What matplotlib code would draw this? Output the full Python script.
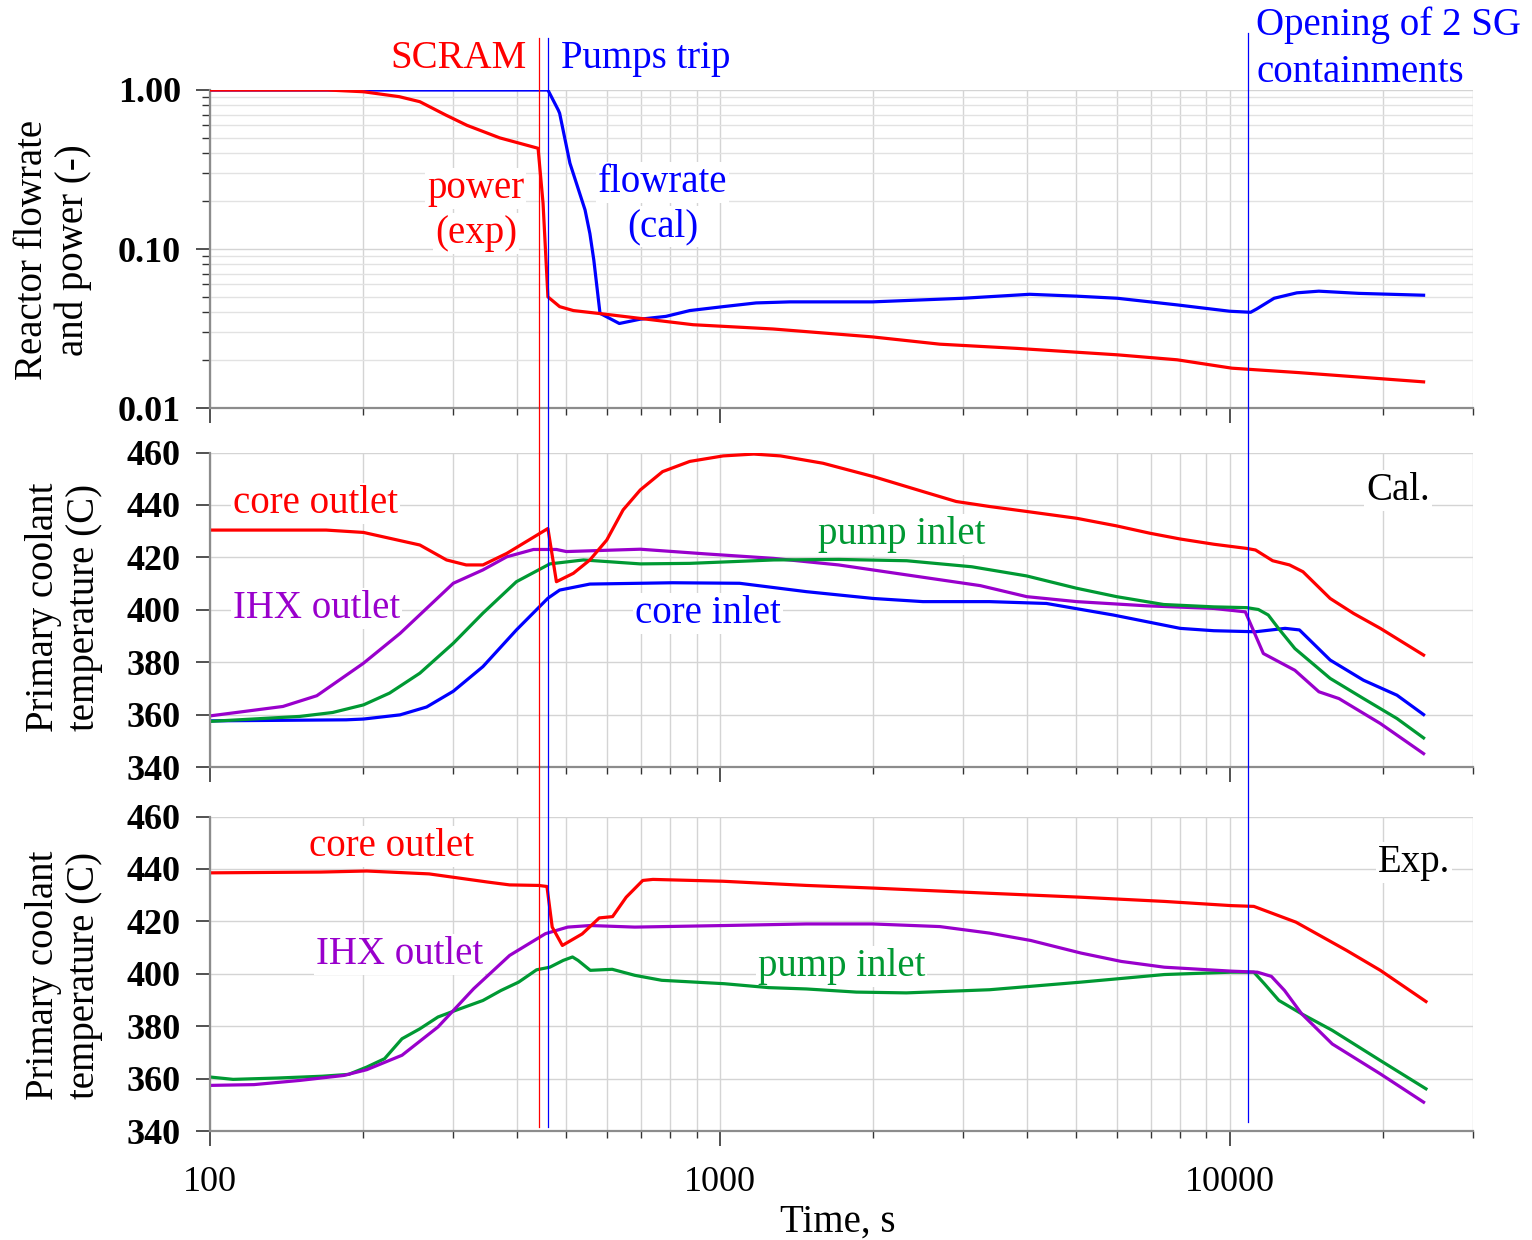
from __future__ import annotations

import matplotlib

matplotlib.use("Agg")
import matplotlib.pyplot as plt
from matplotlib.lines import Line2D
from matplotlib.ticker import FixedLocator, LogLocator, NullFormatter
from matplotlib.transforms import blended_transform_factory

plt.rcParams["font.family"] = ["Liberation Serif", "DejaVu Serif"]

RED = "#ff0000"
BLUE = "#0000ff"
GREEN = "#009933"
PURPLE = "#9900cc"

# event times (s)
SCRAM_T = 442
PUMP_TRIP_T = 460
SG_OPEN_T = 10850

# --- top panel: reactor power (exp) and flowrate (cal), normalised ---
time_power = [100, 170, 200, 235, 258, 290, 319, 370, 440, 450, 460, 485, 516, 588, 698,
              886, 1272, 1992, 2700, 3834, 6020, 7885, 10100, 13640, 24000]
power_exp = [1.0, 1.0, 0.975, 0.908, 0.844, 0.696, 0.60, 0.50, 0.43, 0.194, 0.050, 0.0434,
             0.041, 0.0391, 0.0366, 0.0334, 0.0314, 0.0280, 0.0252, 0.0237, 0.0216, 0.0201,
             0.0178, 0.0167, 0.0146]

time_flow = [100, 460, 482, 485, 508, 544, 556, 566, 582, 635, 698, 784, 873, 1015, 1178,
             1372, 1992, 3000, 4050, 5020, 6020, 7890, 10000, 10990, 11300, 12220, 13540,
             14950, 17900, 24000]
flow_cal = [1.0, 1.0, 0.748, 0.714, 0.347, 0.176, 0.125, 0.085, 0.0394, 0.0340, 0.0362,
            0.0377, 0.0410, 0.0434, 0.0458, 0.0465, 0.0465, 0.0490, 0.0519, 0.0505, 0.0490,
            0.0445, 0.0406, 0.0400, 0.0420, 0.0490, 0.0530, 0.0543, 0.0526, 0.0512]

# --- middle panel: calculated primary temperatures (C) ---
time_core_out_cal = [100, 169, 200, 258, 291, 318, 343, 382, 460, 478, 516, 556, 600, 646,
                     698, 772, 873, 1015, 1166, 1315, 1593, 2001, 2502, 2908, 3379, 3997,
                     5009, 5998, 6971, 7994, 9304, 10800, 11235, 12140, 13100, 13920, 15740,
                     17490, 19740, 24000]
core_out_cal = [430.4, 430.4, 429.5, 424.7, 419.0, 417.1, 417.1, 421.5, 431.0, 410.7, 413.9,
                419.0, 426.6, 438.1, 445.7, 452.7, 456.6, 458.7, 459.4, 458.7, 455.9, 450.8,
                445.1, 441.3, 439.4, 437.5, 434.9, 432.0, 429.2, 427.0, 425.0, 423.4, 422.8,
                418.7, 417.1, 414.5, 404.3, 398.6, 392.9, 382.7]

time_pump_cal = [100, 150, 174, 200, 225, 258, 300, 343, 399, 464, 540, 698, 873, 1275,
                 1710, 2325, 3120, 3997, 5009, 5998, 7420, 9304, 10800, 11380, 11900, 12460,
                 13420, 15740, 18300, 21280, 24000]
pump_cal = [357.4, 359.3, 360.8, 363.7, 368.2, 375.8, 387.2, 398.7, 410.7, 417.5, 419.0,
            417.5, 417.7, 419.0, 419.2, 418.7, 416.4, 412.9, 408.2, 405.0, 402.0, 401.1,
            400.8, 400.1, 398.0, 392.9, 385.2, 373.8, 366.1, 358.5, 351.1]

time_ihx_cal = [100, 139, 162, 200, 236, 300, 343, 382, 431, 478, 500, 698, 940, 1275, 1710,
                2325, 3242, 3997, 5009, 6870, 9304, 10730, 11640, 13420, 14960, 16380, 19740,
                24000]
ihx_cal = [359.5, 363.1, 367.2, 379.6, 391.0, 410.1, 415.2, 420.2, 423.0, 423.0, 422.2,
           423.1, 421.3, 419.6, 417.1, 413.3, 409.2, 405.0, 403.1, 401.5, 400.5, 399.2, 383.3,
           376.9, 368.7, 366.1, 356.6, 345.1]

time_core_in_cal = [100, 185, 200, 236, 266, 300, 343, 399, 460, 485, 556, 808, 1093, 1478,
                    2001, 2502, 3379, 4370, 5907, 7994, 9304, 11235, 12840, 13700, 15740,
                    18300, 21280, 24000]
core_in_cal = [357.6, 358.0, 358.3, 359.9, 362.9, 368.9, 378.3, 392.3, 404.4, 407.5, 409.8,
               410.3, 410.1, 406.9, 404.3, 403.1, 403.1, 402.4, 398.0, 392.9, 392.0, 391.6,
               392.9, 392.3, 380.8, 373.1, 367.4, 360.0]

# --- bottom panel: measured primary temperatures (C) ---
time_core_out_exp = [100, 165, 203, 269, 350, 387, 441, 458, 469, 491, 537, 580, 616, 655,
                     706, 739, 1013, 1478, 1992, 3381, 5106, 7442, 10060, 11150, 13480, 16950,
                     19740, 24260]
core_out_exp = [438.5, 438.8, 439.2, 438.1, 435.0, 433.9, 433.7, 433.3, 417.8, 410.8, 415.2,
                421.3, 421.8, 429.2, 435.6, 436.0, 435.3, 433.7, 432.7, 430.7, 429.2, 427.6,
                426.0, 425.7, 419.7, 408.9, 401.3, 389.4]

time_ihx_exp = [100, 122, 150, 183, 203, 238, 280, 329, 387, 455, 503, 557, 681, 1020, 1478,
                1992, 2700, 3381, 4070, 5106, 6128, 7442, 10060, 11330, 12070, 12810, 13840,
                15890, 19740, 24000]
ihx_exp = [357.4, 357.7, 359.3, 361.2, 363.4, 368.9, 379.7, 394.3, 407.0, 415.3, 417.8,
           418.4, 417.8, 418.4, 419.0, 419.0, 418.0, 415.5, 412.7, 407.9, 404.7, 402.5, 401.0,
           400.6, 399.0, 393.6, 384.7, 373.2, 361.8, 351.0]

time_pump_exp = [100, 111, 135, 166, 187, 203, 220, 238, 258, 280, 303, 343, 372, 403, 437,
                 464, 493, 514, 527, 557, 615, 681, 769, 1020, 1248, 1478, 1852, 2321, 3381,
                 5106, 7442, 10060, 11150, 11690, 12490, 13840, 15890, 19740, 24260]
pump_exp = [360.6, 359.7, 360.2, 360.9, 361.6, 364.4, 367.6, 375.2, 379.0, 383.5, 386.0,
            389.8, 393.6, 396.8, 401.5, 402.5, 405.1, 406.4, 405.1, 401.3, 401.7, 399.4, 397.5,
            396.2, 394.7, 394.2, 393.0, 392.7, 393.9, 396.8, 399.7, 400.6, 400.6, 396.2, 389.8,
            384.7, 378.4, 366.9, 356.1]

temp_ticks = [340, 360, 380, 400, 420, 440, 460]
time_ticks = [100, 1000, 10000]
time_tick_labels = ["100", "1000", "10000"]
power_ticks = [0.01, 0.1, 1.0]
power_tick_labels = ["0.01", "0.10", "1.00"]

W, H = 1532, 1240
FS = 28
TICK_FS = 26
LW = 2.3


def fx(px: float) -> float:
    return px / W


def fy(py: float) -> float:
    return 1 - py / H


def style_axis(ax: plt.Axes, bottom_labels: bool) -> None:
    ax.set_xscale("log")
    ax.set_xlim(100, 30000)
    ax.xaxis.set_major_locator(FixedLocator(time_ticks))
    ax.xaxis.set_minor_locator(LogLocator(base=10, subs=range(2, 10), numticks=20))
    ax.xaxis.set_minor_formatter(NullFormatter())
    if bottom_labels:
        ax.set_xticklabels(time_tick_labels)
    else:
        ax.set_xticklabels([])
    for side in ("top", "right"):
        ax.spines[side].set_visible(False)
    for side in ("left", "bottom"):
        ax.spines[side].set_color("#8c8c8c")
        ax.spines[side].set_linewidth(1.6)
    ax.tick_params(axis="x", which="major", length=11, width=1.2, color="#333333",
                   labelsize=TICK_FS, pad=14)
    ax.tick_params(axis="x", which="minor", length=5, width=1.0, color="#333333")
    ax.tick_params(axis="y", which="major", length=10, width=1.2, color="#333333",
                   labelsize=TICK_FS, pad=11)
    ax.tick_params(axis="y", which="minor", length=6, width=1.0, color="#333333")
    ax.set_axisbelow(True)
    ax.grid(which="both", axis="x", color="#d4d4d4", lw=1.0)
    ax.grid(which="major", axis="y", color="#d4d4d4", lw=1.0)


def label(ax: plt.Axes, px: float, py: float, text: str, color: str) -> None:
    # in-panel label, white box hides the grid but stays under the curves
    ax.text(fx(px), fy(py), text, transform=ax.figure.transFigure, color=color,
            fontsize=FS, ha="left", va="baseline", zorder=1.5,
            bbox=dict(facecolor="white", edgecolor="none", pad=1.5))


def main() -> None:
    fig = plt.figure(figsize=(W / 100, H / 100), dpi=100)
    left, width = fx(210), fx(1473) - fx(210)
    ax_top = fig.add_axes([left, fy(408), width, fy(90) - fy(408)])
    ax_cal = fig.add_axes([left, fy(767), width, fy(452.5) - fy(767)])
    ax_exp = fig.add_axes([left, fy(1131), width, fy(816.5) - fy(1131)])

    # top panel
    style_axis(ax_top, bottom_labels=False)
    ax_top.set_yscale("log")
    ax_top.set_ylim(0.01, 1.0)
    ax_top.set_yticks(power_ticks, labels=power_tick_labels)
    ax_top.yaxis.set_minor_formatter(NullFormatter())
    ax_top.grid(which="minor", axis="y", color="#e2e2e2", lw=1.0)
    ax_top.plot(time_flow, flow_cal, color=BLUE, lw=LW, zorder=2)
    ax_top.plot(time_power, power_exp, color=RED, lw=LW, zorder=3)
    label(ax_top, 427, 198, "power", RED)
    label(ax_top, 435, 243, "(exp)", RED)
    label(ax_top, 598, 192, "flowrate", BLUE)
    label(ax_top, 627, 236, "(cal)", BLUE)

    # middle panel (calculation)
    style_axis(ax_cal, bottom_labels=False)
    ax_cal.set_ylim(340, 460)
    ax_cal.set_yticks(temp_ticks)
    ax_cal.plot(time_core_in_cal, core_in_cal, color=BLUE, lw=LW, zorder=2)
    ax_cal.plot(time_ihx_cal, ihx_cal, color=PURPLE, lw=LW, zorder=2)
    ax_cal.plot(time_pump_cal, pump_cal, color=GREEN, lw=LW, zorder=2)
    ax_cal.plot(time_core_out_cal, core_out_cal, color=RED, lw=LW, zorder=2)
    label(ax_cal, 233, 513, "core outlet", RED)
    label(ax_cal, 233, 618, "IHX outlet", PURPLE)
    label(ax_cal, 818, 544, "pump inlet", GREEN)
    label(ax_cal, 635, 623, "core inlet", BLUE)
    label(ax_cal, 1366, 500, "Cal.", "black")

    # bottom panel (experiment)
    style_axis(ax_exp, bottom_labels=True)
    ax_exp.set_ylim(340, 460)
    ax_exp.set_yticks(temp_ticks)
    ax_exp.plot(time_pump_exp, pump_exp, color=GREEN, lw=LW, zorder=2)
    ax_exp.plot(time_ihx_exp, ihx_exp, color=PURPLE, lw=LW, zorder=2)
    ax_exp.plot(time_core_out_exp, core_out_exp, color=RED, lw=LW, zorder=2)
    label(ax_exp, 309, 856, "core outlet", RED)
    label(ax_exp, 316, 964, "IHX outlet", PURPLE)
    label(ax_exp, 758, 976, "pump inlet", GREEN)
    label(ax_exp, 1378, 872, "Exp.", "black")

    for ax in (ax_top, ax_cal, ax_exp):
        for tick in ax.get_yticklabels():
            tick.set_fontweight("bold")

    # event markers spanning all three panels
    trans = blended_transform_factory(ax_top.transData, fig.transFigure)
    for t, color, y0, y1 in ((SCRAM_T, RED, 38, 1127), (PUMP_TRIP_T, BLUE, 38, 1127),
                             (SG_OPEN_T, BLUE, 33, 1122)):
        fig.add_artist(Line2D([t, t], [fy(y1), fy(y0)], transform=trans, color=color,
                              lw=0.9, zorder=5))

    fig.text(fx(527), fy(68), "SCRAM", color=RED, fontsize=FS, ha="right", va="baseline")
    fig.text(fx(561), fy(68), "Pumps trip", color=BLUE, fontsize=FS, ha="left", va="baseline")
    fig.text(fx(1256), fy(35), "Opening of 2 SG", color=BLUE, fontsize=FS, ha="left",
             va="baseline")
    fig.text(fx(1256), fy(82), "containments", color=BLUE, fontsize=FS, ha="left",
             va="baseline")

    fig.text(fx(53), fy(250), "Reactor flowrate\nand power (-)", fontsize=FS, rotation=90,
             ha="center", va="center", linespacing=1.15)
    for yc in (607, 975):
        fig.text(fx(64), fy(yc), "Primary coolant\ntemperature (C)", fontsize=FS,
                 rotation=90, ha="center", va="center", linespacing=1.15)
    fig.text(fx(838), fy(1232), "Time, s", fontsize=FS, ha="center", va="baseline")

    fig.savefig("out.png", dpi=100)
    plt.close(fig)


if __name__ == "__main__":
    main()
